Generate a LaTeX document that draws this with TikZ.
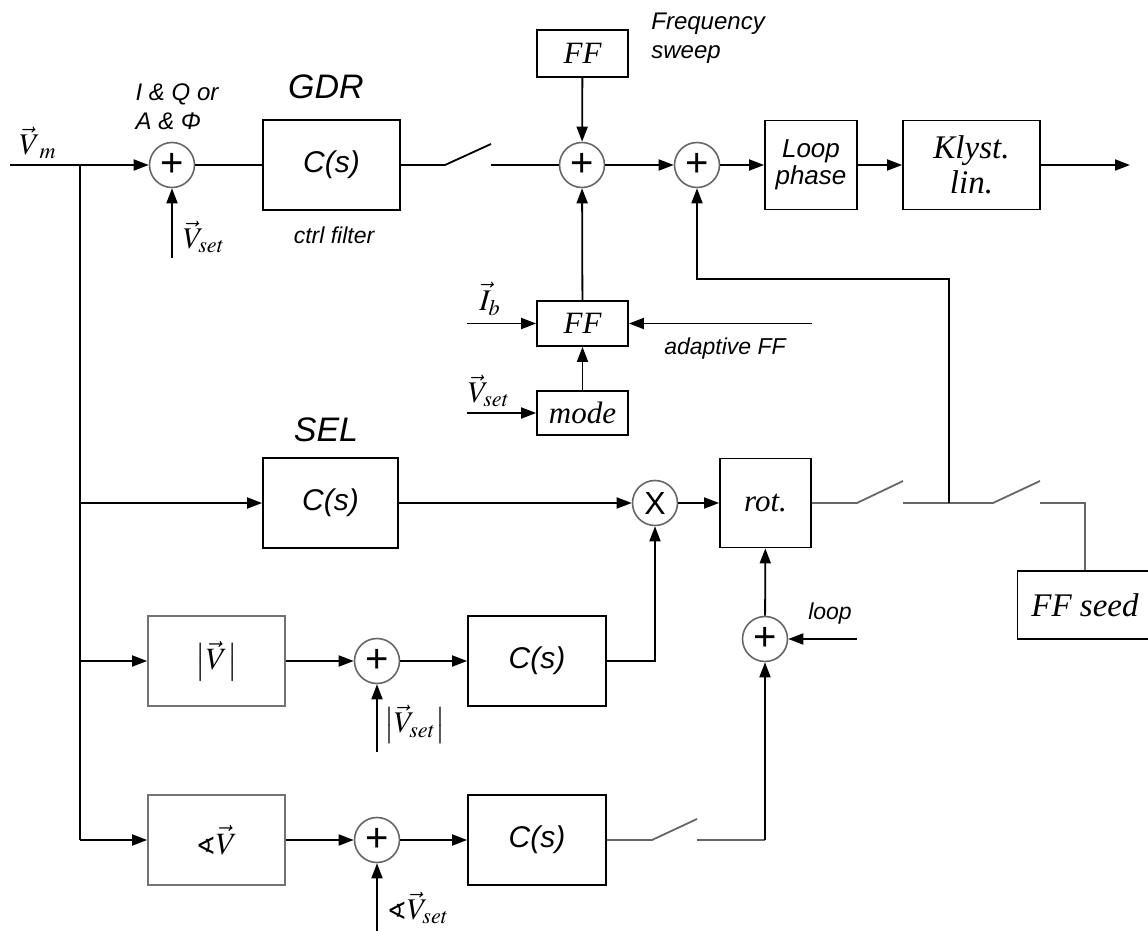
\documentclass[tikz,border=0pt]{standalone}
\usepackage{mathptmx}
\usepackage{amssymb}
\usepackage{fontspec}
\setmainfont{Liberation Serif}
\setsansfont{Liberation Sans}
\newfontfamily\anglefont{DejaVu Sans}
\newcommand{\angsym}{\mbox{\anglefont\fontsize{12}{12}\selectfont ∢}}
\usetikzlibrary{arrows.meta,positioning}
\tikzset{
  >={Triangle[length=7.5pt,width=5.5pt]},
  blk/.style={draw=#1,line width=0.9pt,inner sep=0pt,align=center,
    font=\fontsize{15.5}{17.5}\selectfont\itshape},
  blk/.default=black,
  cs/.style={blk,minimum width=68.5pt,minimum height=45pt,
    font=\sffamily\itshape\fontsize{15}{17}\selectfont},
  sum/.style={circle,draw=black!60,line width=0.8pt,minimum size=22.5pt,
    inner sep=0pt,font=\sffamily\fontsize{20}{20}\selectfont},
  wire/.style={line width=0.9pt},
  swire/.style={line width=0.9pt,draw=black!60},
  lbl/.style={font=\sffamily\itshape\fontsize{11.5}{14.5}\selectfont,align=left,inner sep=0pt},
  title/.style={font=\sffamily\itshape\fontsize{17}{17}\selectfont,inner sep=0pt},
  sig/.style={font=\fontsize{15}{15}\selectfont,inner sep=0pt},
}
\begin{document}
\begin{tikzpicture}[x=0.5pt,y=-0.5pt]
  \useasboundingbox (0,0) rectangle (1148,931);
  % GDR branch
  \node[sum] (s1) at (172,165) {+};
  \node[cs] (gdr) at (331.5,165) {C(s)};
  \node[sum] (s2) at (582,165) {+};
  \node[sum] (s3) at (697,165) {+};
  \node[blk,minimum width=45.5pt,minimum height=23.5pt] (ffsweep) at (582.5,53.5) {FF};
  \node[blk,minimum width=46pt,minimum height=44.5pt,
    font=\sffamily\itshape\fontsize{13}{13.5}\selectfont] (loopph) at (811,165) {Loop\\phase};
  \node[blk,minimum width=68.5pt,minimum height=44.5pt,
    font=\fontsize{16.5}{17.5}\selectfont\itshape] (klyst) at (971.5,165) {Klyst.\\lin.};
  \node[blk,minimum width=45.5pt,minimum height=22.5pt] (ffmid) at (582.5,323.5) {FF};
  \node[blk,minimum width=45.5pt,minimum height=22pt] (mode) at (582.5,413) {mode};
  % SEL branch
  \node[cs,minimum width=67.5pt] (sel) at (330.5,503) {C(s)};
  \node[sum,font=\sffamily\fontsize{16}{16}\selectfont] (sx) at (655,503) {X};
  \node[blk,minimum width=45.5pt,minimum height=44.5pt] (rot) at (765.5,503) {rot.};
  \node[blk,minimum width=67.5pt,minimum height=34pt,font=\fontsize{16.5}{17}\selectfont\itshape]
    (seed) at (1085,605) {FF seed};
  \node[sum] (s5) at (765,639) {+};
  % amplitude and phase
  \node[blk=black!55,minimum width=68.5pt,minimum height=45pt] (absv) at (216.5,661) {$\bigl|\vec{V}\bigr|$};
  \node[sum] (s4) at (377,661) {+};
  \node[cs,minimum width=69pt] (ampc) at (537,661) {C(s)};
  \node[blk=black!55,minimum width=68.5pt,minimum height=45pt] (angv) at (216.5,840) {$\angsym\vec{V}$};
  \node[sum] (s6) at (377,840) {+};
  \node[cs,minimum width=69pt] (angc) at (537,840) {C(s)};

  % labels
  \node[sig] (vmlbl) at (38,143) {$\vec{V}_{\;m}$};
  \node[sig] (vs1lbl) at (204,237) {$\vec{V}_{set}$};
  \node[lbl,font=\sffamily\itshape\fontsize{12}{14.5}\selectfont] (iqlbl) at (177,107) {I \& Q or\\A \& Φ};
  \node[title] (gdrlbl) at (326,87) {GDR};
  \node[lbl] (ctrllbl) at (334,235) {ctrl filter};
  \node[lbl,anchor=north west,font=\sffamily\itshape\fontsize{12}{14.5}\selectfont] (freqlbl) at (651,13) {Frequency\\sweep};
  \node[sig] (iblbl) at (490,299) {$\vec{I}_{b}$};
  \node[sig] (vs2lbl) at (489,391) {$\vec{V}_{set}$};
  \node[lbl] (adlbl) at (725,349) {adaptive FF};
  \node[title] (sellbl) at (326,430) {SEL};
  \node[lbl] (looplbl) at (830,614) {loop};
  \node[sig] (vs3lbl) at (415,724) {$\bigl|\vec{V}_{set}\bigr|$};
  \node[sig] (vs4lbl) at (418,908) {$\angsym\vec{V}_{set}$};

  % free ends and corners
  \coordinate (vin) at (10,165);
  \coordinate (br1) at (80,165);
  \coordinate (br2) at (80,503);
  \coordinate (br3) at (80,661);
  \coordinate (br4) at (80,840);
  \coordinate (v1in) at (172,258);
  \coordinate (sw1p) at (445,165);
  \coordinate (sw1t) at (491,144);
  \coordinate (sw1r) at (491,165);
  \coordinate (out) at (1130,165);
  \coordinate (ibin) at (467,323.5);
  \coordinate (vsin) at (467,413);
  \coordinate (adin) at (812,323.5);
  \coordinate (sw2p) at (857,503);
  \coordinate (sw2t) at (903,481);
  \coordinate (sw2r) at (903,503);
  \coordinate (jn) at (949,503);
  \coordinate (fbc) at (697,279);
  \coordinate (sw3p) at (993,503);
  \coordinate (sw3t) at (1040,481);
  \coordinate (sw3r) at (1040,503);
  \coordinate (loopin) at (857,639);
  \coordinate (v3in) at (377,752);
  \coordinate (v4in) at (377,931);
  \coordinate (sw4p) at (652,840);
  \coordinate (sw4t) at (697,819);
  \coordinate (sw4r) at (697,840);
  \coordinate (sw4c) at (765,840);

  % connections
  \draw[wire] (vin) -- (br1) -- (br4);
  \draw[wire,->] (br1) -- (s1);
  \draw[wire,->] (v1in) -- (s1);
  \draw[wire] (s1) -- (gdr);
  \draw[wire] (gdr) -- (sw1p) -- (sw1t);
  \draw[wire] (sw1r) -- (s2);
  \draw[wire,->] (ffsweep) -- (s2);
  \draw[wire,->] (s2) -- (s3);
  \draw[wire,->] (s3) -- (loopph);
  \draw[wire,->] (loopph) -- (klyst);
  \draw[wire,->] (klyst) -- (out);
  \draw[wire,->] (ffmid) -- (s2);
  \draw[wire,->] (ibin) -- (ffmid);
  \draw[wire,->] (adin) -- (ffmid);
  \draw[wire,->] (mode) -- (ffmid);
  \draw[wire,->] (vsin) -- (mode);
  \draw[wire,->] (br2) -- (sel);
  \draw[wire,->] (sel) -- (sx);
  \draw[wire,->] (sx) -- (rot);
  \draw[swire] (rot) -- (sw2p) -- (sw2t);
  \draw[swire] (sw2r) -- (sw3p) -- (sw3t);
  \draw[swire] (sw3r) -| (seed);
  \draw[wire,->] (jn) |- (fbc) -- (s3);
  \draw[wire,->] (s5) -- (rot);
  \draw[wire,->] (loopin) -- (s5);
  \draw[wire,->] (br3) -- (absv);
  \draw[wire,->] (absv) -- (s4);
  \draw[wire,->] (v3in) -- (s4);
  \draw[wire,->] (s4) -- (ampc);
  \draw[wire,->] (ampc) -| (sx);
  \draw[wire,->] (br4) -- (angv);
  \draw[wire,->] (angv) -- (s6);
  \draw[wire,->] (v4in) -- (s6);
  \draw[wire,->] (s6) -- (angc);
  \draw[swire] (angc) -- (sw4p) -- (sw4t);
  \draw[swire] (sw4r) -- (sw4c);
  \draw[wire,->] (sw4c) -- (s5);
\end{tikzpicture}
\end{document}
